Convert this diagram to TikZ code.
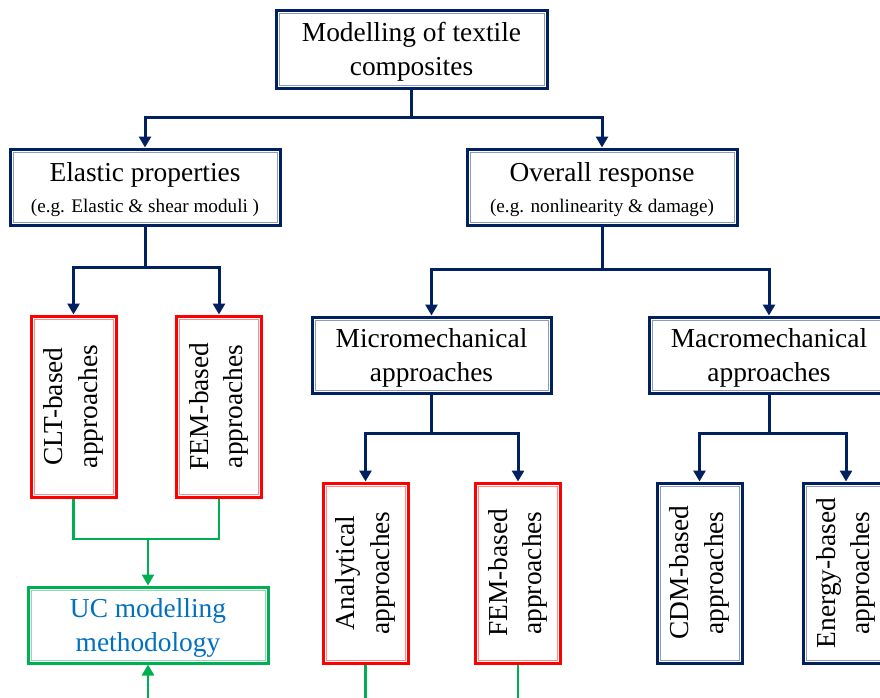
\documentclass[tikz,border=0pt]{standalone}
\usepackage{fontspec}
\setmainfont{Liberation Serif}
\usetikzlibrary{arrows.meta}
\definecolor{navy}{HTML}{002060}
\definecolor{bred}{HTML}{FF0000}
\definecolor{bgreen}{HTML}{00B050}
\definecolor{ucblue}{HTML}{0070C0}
\begin{document}
\begin{tikzpicture}[x=1pt,y=-1pt,
  bigfont/.style={font=\fontsize{27.4}{34.5}\selectfont},
  box/.style={draw=#1, line width=3pt, outer sep=1.5pt, inner sep=0pt, fill=white},
  nbox/.style={box=navy},
  rbox/.style={box=bred},
  gbox/.style={box=bgreen},
  vbox/.style={minimum width=85pt, minimum height=181pt},
  hbox/.style={minimum width=239pt, minimum height=76pt},
  htext/.style={align=center, bigfont, inner sep=0pt},
  vtext/.style={rotate=90, align=center, bigfont, inner sep=0pt},
  inner/.style={draw=#1, line width=1pt},
  nline/.style={draw=navy, line width=3pt},
  narr/.style={nline, -{Triangle[width=12pt,length=11pt]}},
  gline/.style={draw=bgreen, line width=2.6pt},
  garr/.style={gline, -{Triangle[width=12pt,length=11pt]}},
]
\useasboundingbox (0,0) rectangle (880,697);
\clip (0,0) rectangle (880,697);

% boxes
\node[nbox, minimum width=271pt, minimum height=78pt] (top) at (411.5,49) {};
\node[nbox, minimum width=270pt, minimum height=76pt] (elastic) at (145,187) {};
\node[nbox, minimum width=270pt, minimum height=76pt] (overall) at (602,187) {};
\node[rbox, vbox] (clt) at (73.5,406.5) {};
\node[rbox, vbox] (fem1) at (219,406.5) {};
\node[nbox, hbox] (micro) at (431.5,355) {};
\node[nbox, hbox] (macro) at (769,355) {};
\node[gbox, minimum width=240pt, minimum height=76pt] (uc) at (148,625) {};
\node[rbox, vbox, minimum height=180pt] (anal) at (365.5,573) {};
\node[rbox, vbox, minimum height=180pt] (fem2) at (518,573) {};
\node[nbox, vbox, minimum height=180pt] (cdm) at (699.5,573) {};
\node[nbox, vbox, minimum height=180pt] (energy) at (846,573) {};

% horizontal texts
\node[htext] (topT) at ([yshift=-3pt]top.center) {Modelling of textile\\composites};
\node[htext] (elasticT) at ([yshift=-2.5pt]elastic.center)
  {Elastic properties\\[-3pt]{\fontsize{19.2}{22}\selectfont (e.g. Elastic \& shear moduli )}};
\node[htext] (overallT) at ([yshift=-2.5pt]overall.center)
  {Overall response\\[-3pt]{\fontsize{19.2}{22}\selectfont (e.g. nonlinearity \& damage)}};
\node[htext] (microT) at ([yshift=-3pt]micro.center) {Micromechanical\\approaches};
\node[htext] (macroT) at ([yshift=-3pt]macro.center) {Macromechanical\\approaches};
\node[htext, text=ucblue] (ucT) at ([yshift=-3pt]uc.center) {UC modelling\\methodology};

% rotated texts
\node[vtext] (cltT) at (clt.center) {CLT-based\\approaches};
\node[vtext] (fem1T) at (fem1.center) {FEM-based\\approaches};
\node[vtext] (analT) at (anal.center) {Analytical\\approaches};
\node[vtext] (fem2T) at (fem2.center) {FEM-based\\approaches};
\node[vtext] (cdmT) at (cdm.center) {CDM-based\\approaches};
\node[vtext] (energyT) at (energy.center) {Energy-based\\approaches};

% inner lines of the double borders
\foreach \n in {top,elastic,overall,micro,macro,cdm,energy}
  \draw[inner=navy!45] ([shift={(4.5pt,-4.5pt)}]\n.north west) rectangle ([shift={(-4.5pt,4.5pt)}]\n.south east);
\foreach \n in {clt,fem1,anal,fem2}
  \draw[inner=bred!45] ([shift={(4.5pt,-4.5pt)}]\n.north west) rectangle ([shift={(-4.5pt,4.5pt)}]\n.south east);
\foreach \n in {uc}
  \draw[inner=bgreen!45] ([shift={(4.5pt,-4.5pt)}]\n.north west) rectangle ([shift={(-4.5pt,4.5pt)}]\n.south east);

% junctions
\coordinate (j0) at (411.5,117);
\coordinate (j1) at (145,267);
\coordinate (j2) at (602,269);
\coordinate (j3) at (431.5,433);
\coordinate (j4) at (769,433);
\coordinate (g1) at (148,539);
\coordinate (bot) at (148,705);

% navy connectors
\draw[nline] (top.south) -- (j0);
\draw[narr] (j0) -| (elastic.north);
\draw[narr] (j0) -| (overall.north);
\draw[nline] (elastic.south) -- (j1);
\draw[narr] (j1) -| (clt.north);
\draw[narr] (j1) -| (fem1.north);
\draw[nline] (overall.south) -- (j2);
\draw[narr] (j2) -| (micro.north);
\draw[narr] (j2) -| (macro.north);
\draw[nline] (micro.south) -- (j3);
\draw[narr] (j3) -| (anal.north);
\draw[narr] (j3) -| (fem2.north);
\draw[nline] (macro.south) -- (j4);
\draw[narr] (j4) -| (cdm.north);
\draw[narr] (j4) -| (energy.north);

% green connectors
\draw[gline] (clt.south) -- (clt.south |- g1) -- (fem1.south |- g1) -- (fem1.south);
\draw[garr] (g1) -- (uc.north);
\draw[garr] (bot) -- (uc.south);
\draw[gline] (anal.south) -- (anal.south |- bot);
\draw[gline] (fem2.south) -- (fem2.south |- bot);
\end{tikzpicture}
\end{document}
